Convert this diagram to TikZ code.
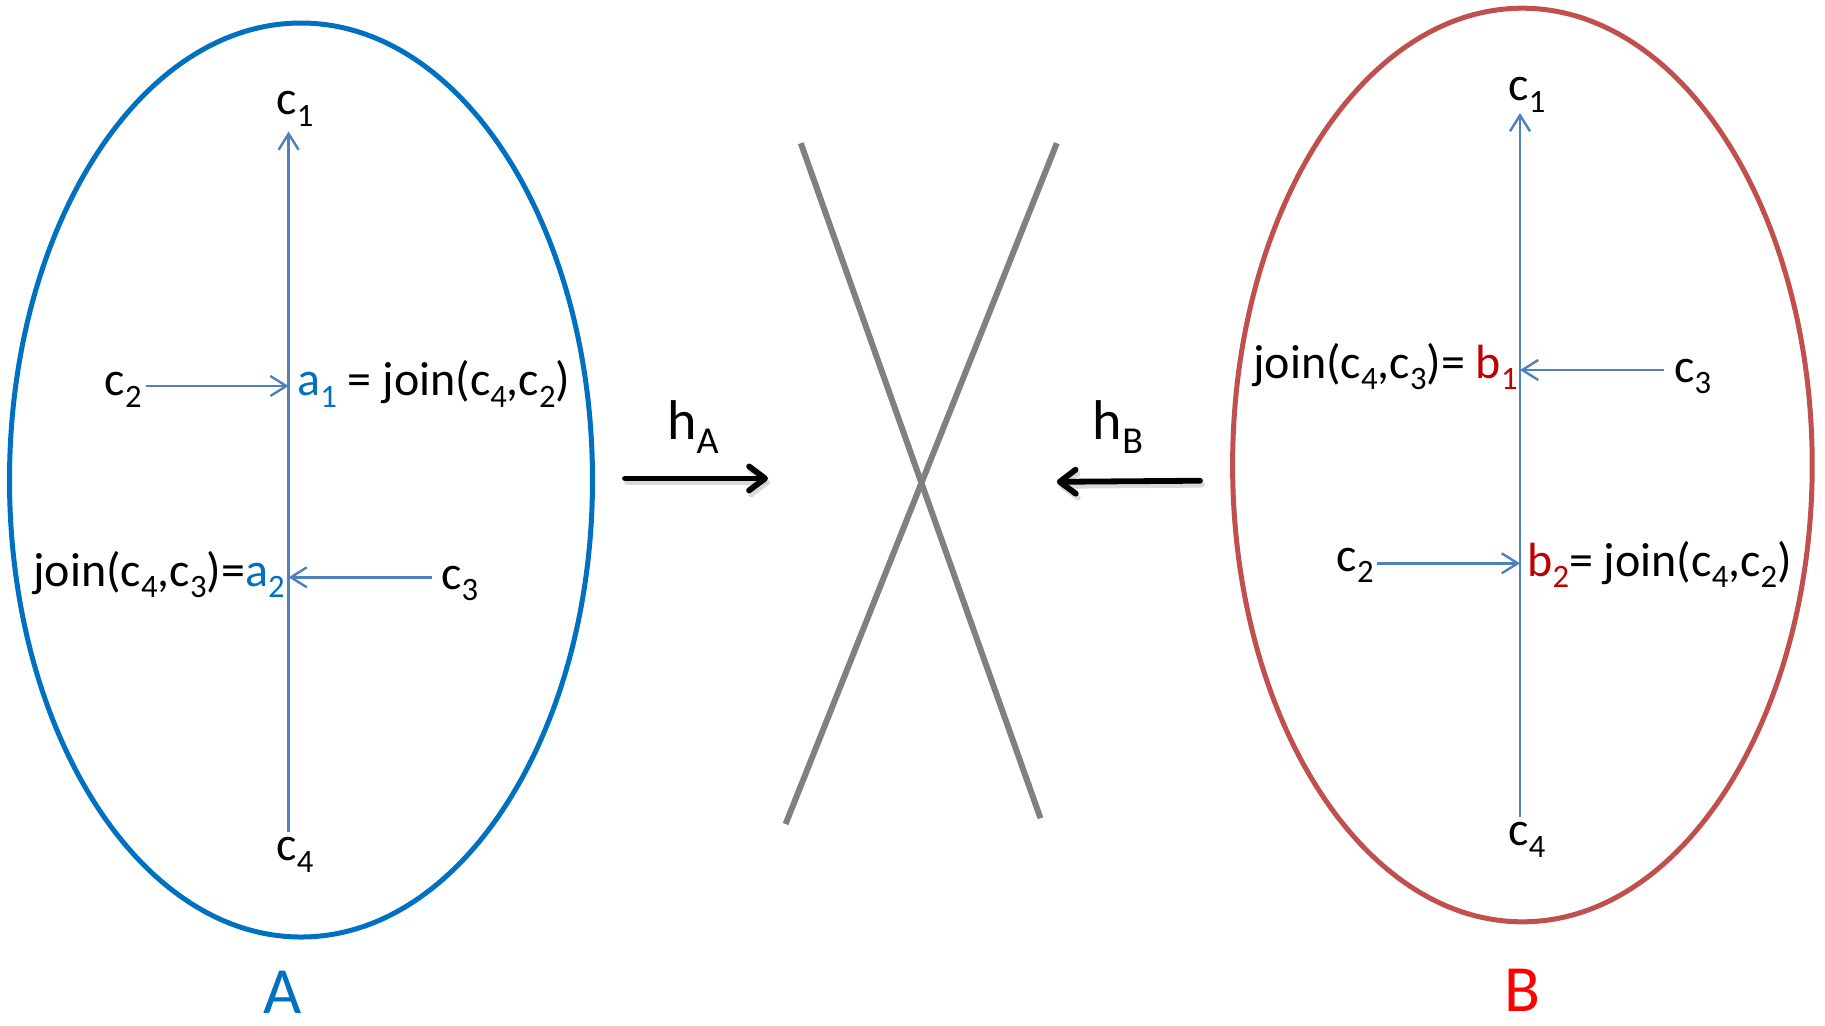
\documentclass[tikz,border=0pt]{standalone}
\usepackage{fontspec}
\setmainfont{Carlito}
\usetikzlibrary{arrows.meta}
\definecolor{ablue}{HTML}{0070C0}
\definecolor{bred}{HTML}{C0504D}
\definecolor{lblue}{HTML}{4F81BD}
\definecolor{dred}{HTML}{C00000}
\definecolor{pred}{HTML}{FF0000}
\definecolor{xgray}{HTML}{808080}
\newcommand\lowsub[1]{\raisebox{-0.24em}{\scalebox{0.68}{#1}}}
\tikzset{
  lbl/.style={inner sep=0pt, font=\fontsize{24}{28}\selectfont},
  big/.style={inner sep=0pt, font=\fontsize{33}{36}\selectfont},
  hlbl/.style={inner sep=0pt, font=\fontsize{28}{32}\selectfont},
  ln/.style={draw=lblue, line width=1.2pt, -{Straight Barb[length=8pt,width=10pt]}},
  harrow/.style={draw=black, line width=2.9pt, line cap=round, -{Straight Barb[length=8pt,width=12pt,round]}},
  hshadow/.style={draw=black!25, opacity=0.6, line width=2.9pt, line cap=round, -{Straight Barb[length=8pt,width=12pt,round]}},
  xline/.style={draw=xgray, line width=3pt},
  ellA/.style={draw=ablue, line width=2.5pt},
  ellB/.style={draw=bred, line width=2.5pt}
}
\begin{document}
\fontsize{24}{28}\selectfont
\begin{tikzpicture}[x=0.5pt,y=-0.5pt]
\useasboundingbox (0,0) rectangle (1825,1025);

% ---------- left ellipse A ----------
\draw[ellA] (301,480) ellipse [x radius=291.5, y radius=457];
\coordinate (Atop) at (288.6,131.5);
\coordinate (Abot) at (288.6,832);
\coordinate (Ac2s) at (145.5,386);
\coordinate (Aa1) at (288.6,386);
\coordinate (Ac3s) at (431.8,577.3);
\coordinate (Aa2) at (288.6,577.3);
\draw[ln] (Abot) -- (Atop);
\draw[ln] (Ac2s) -- (Aa1);
\draw[ln] (Ac3s) -- (Aa2);
\node[lbl] (Ac1) at (295,109) {c\lowsub{1}};
\node[lbl] (Ac4) at (295,855) {c\lowsub{4}};
\node[lbl, anchor=mid east] (Ac2) at (142,384.5) {c\lowsub{2}};
\node[lbl, anchor=mid west] (Aeq1) at (297,384.5) {\textcolor{ablue}{a\lowsub{1}} = join(c\lowsub{4},c\lowsub{2})};
\node[lbl, anchor=mid east] (Aeq2) at (285,575) {join(c\lowsub{4},c\lowsub{3})=\textcolor{ablue}{a\lowsub{2}}};
\node[lbl, anchor=mid west] (Ac3) at (441,578) {c\lowsub{3}};
\node[big, text=ablue] (Alab) at (283,992) {A};

% ---------- middle X ----------
\coordinate (X1a) at (800.8,143.2);
\coordinate (X1b) at (1040.5,818.2);
\coordinate (X2a) at (1056.8,143.2);
\coordinate (X2b) at (785.6,824);
\draw[xline] (X1a) -- (X1b);
\draw[xline] (X2a) -- (X2b);

% ---------- h arrows ----------
\coordinate (hAs) at (625,478.4);
\coordinate (hAe) at (768,478.4);
\coordinate (hBs) at (1200,480.7);
\coordinate (hBe) at (1056.8,481.8);
\draw[hshadow] ([shift={(2,4)}]hAs) -- ([shift={(2,4)}]hAe);
\draw[hshadow] ([shift={(2,4)}]hBs) -- ([shift={(2,4)}]hBe);
\draw[harrow] (hAs) -- (hAe);
\draw[harrow] (hBs) -- (hBe);
\node[hlbl] (hA) at (693,427) {h\lowsub{A}};
\node[hlbl] (hB) at (1118,427) {h\lowsub{B}};

% ---------- right ellipse B ----------
\draw[ellB] (1522.4,465) ellipse [x radius=289.8, y radius=456.8];
\coordinate (Btop) at (1520,113);
\coordinate (Bbot) at (1520,817);
\coordinate (Bc3s) at (1664,370);
\coordinate (Bb1) at (1520,370);
\coordinate (Bc2s) at (1377,563.3);
\coordinate (Bb2) at (1520,563.3);
\draw[ln] (Bbot) -- (Btop);
\draw[ln] (Bc3s) -- (Bb1);
\draw[ln] (Bc2s) -- (Bb2);
\node[lbl] (Bc1) at (1527,95) {c\lowsub{1}};
\node[lbl] (Bc4) at (1527,840) {c\lowsub{4}};
\node[lbl, anchor=mid east] (Beq1) at (1518,367) {join(c\lowsub{4},c\lowsub{3})= \textcolor{dred}{b\lowsub{1}}};
\node[lbl, anchor=mid west] (Bc3) at (1674,371) {c\lowsub{3}};
\node[lbl, anchor=mid east] (Bc2) at (1374,560) {c\lowsub{2}};
\node[lbl, anchor=mid west] (Beq2) at (1527,565) {\textcolor{dred}{b\lowsub{2}}= join(c\lowsub{4},c\lowsub{2})};
\node[big, text=pred] (Blab) at (1522,990) {B};
\end{tikzpicture}
\end{document}
